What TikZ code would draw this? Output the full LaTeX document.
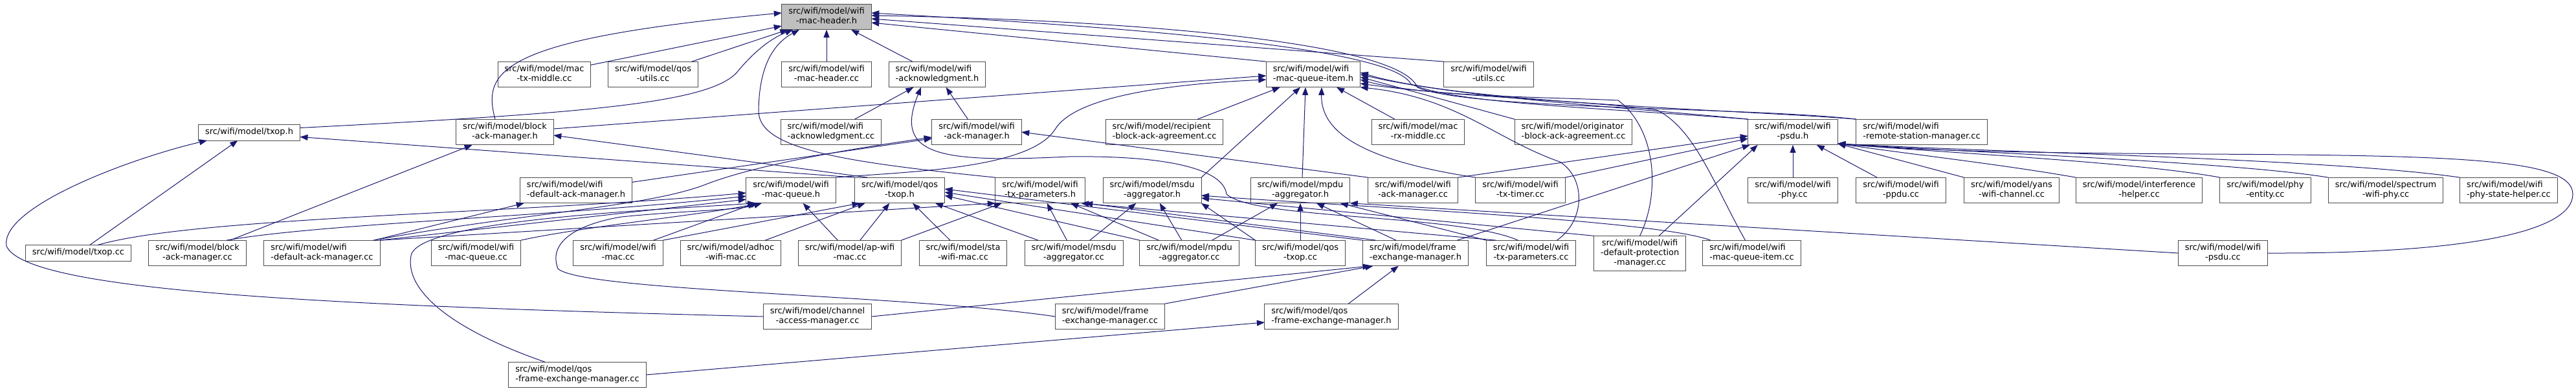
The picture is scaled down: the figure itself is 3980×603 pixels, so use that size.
\documentclass[tikz,border=0pt]{standalone}
\usepackage{fontspec}
\setmainfont{DejaVu Sans}
\usetikzlibrary{arrows.meta}
\definecolor{edgeblue}{HTML}{191970}
\definecolor{rootfill}{HTML}{BFBFBF}
\newcommand{\incfile}[2]{\strut#1\\\strut#2}
\tikzset{
  file/.style={draw=black!70, line width=1pt, fill=white, inner xsep=10.5pt, inner ysep=5.15pt, outer sep=0pt, align=center, font=\fontsize{13}{14.7}\selectfont},
  fileleft/.style={file, align=left},
  rootfile/.style={file, fill=rootfill},
  inc/.style={draw=edgeblue, line width=1pt, -{Triangle[length=12pt,width=9pt]}}
}
\begin{document}
\begin{tikzpicture}[x=1pt,y=-1pt]
\useasboundingbox (0,0) rectangle (3980,603);
\node[rootfile] (mh) at (1277,26) {\incfile{src/wifi/model/wifi}{-mac-header.h}};
% rank 2
\node[file] (mtx) at (841,115) {\incfile{src/wifi/model/mac}{-tx-middle.cc}};
\node[file] (qu) at (1009,115) {\incfile{src/wifi/model/qos}{-utils.cc}};
\node[file] (mhc) at (1277,115) {\incfile{src/wifi/model/wifi}{-mac-header.cc}};
\node[fileleft] (ackh) at (1448,115) {\incfile{src/wifi/model/wifi}{-acknowledgment.h}};
\node[fileleft] (mqi) at (2029,115) {\incfile{src/wifi/model/wifi}{-mac-queue-item.h}};
\node[file] (wu) at (2300,115) {\incfile{src/wifi/model/wifi}{-utils.cc}};
% rank 3
\node[file] (txoph) at (385,204.5) {\strut src/wifi/model/txop.h};
\node[file] (bamh) at (780,204) {\incfile{src/wifi/model/block}{-ack-manager.h}};
\node[fileleft] (ackc) at (1284,204) {\incfile{src/wifi/model/wifi}{-acknowledgment.cc}};
\node[file] (amh) at (1509,204) {\incfile{src/wifi/model/wifi}{-ack-manager.h}};
\node[fileleft] (rbaa) at (1799,204) {\incfile{src/wifi/model/recipient}{-block-ack-agreement.cc}};
\node[file] (mrx) at (2191,204) {\incfile{src/wifi/model/mac}{-rx-middle.cc}};
\node[fileleft] (obaa) at (2431,204) {\incfile{src/wifi/model/originator}{-block-ack-agreement.cc}};
\node[file] (psduh) at (2770,204) {\incfile{src/wifi/model/wifi}{-psdu.h}};
\node[fileleft] (rsm) at (2969,204) {\incfile{src/wifi/model/wifi}{-remote-station-manager.cc}};
% rank 4
\node[fileleft] (damh) at (890,294) {\incfile{src/wifi/model/wifi}{-default-ack-manager.h}};
\node[file] (mqh) at (1222,294) {\incfile{src/wifi/model/wifi}{-mac-queue.h}};
\node[file] (qtxoph) at (1390,294) {\incfile{src/wifi/model/qos}{-txop.h}};
\node[file] (tph) at (1607,294) {\incfile{src/wifi/model/wifi}{-tx-parameters.h}};
\node[file] (msduh) at (1780,294) {\incfile{src/wifi/model/msdu}{-aggregator.h}};
\node[file] (mpduh) at (2009,294) {\incfile{src/wifi/model/mpdu}{-aggregator.h}};
\node[file] (amc) at (2183,294) {\incfile{src/wifi/model/wifi}{-ack-manager.cc}};
\node[file] (ttc) at (2349,294) {\incfile{src/wifi/model/wifi}{-tx-timer.cc}};
\node[file] (phyc) at (2770,294) {\incfile{src/wifi/model/wifi}{-phy.cc}};
\node[file] (ppduc) at (2937,294) {\incfile{src/wifi/model/wifi}{-ppdu.cc}};
\node[file] (yans) at (3108,294) {\incfile{src/wifi/model/yans}{-wifi-channel.cc}};
\node[file] (ihc) at (3305,294) {\incfile{src/wifi/model/interference}{-helper.cc}};
\node[file] (pec) at (3500,294) {\incfile{src/wifi/model/phy}{-entity.cc}};
\node[file] (swp) at (3686,294) {\incfile{src/wifi/model/spectrum}{-wifi-phy.cc}};
\node[fileleft] (pshc) at (3876,294) {\incfile{src/wifi/model/wifi}{-phy-state-helper.cc}};
% rank 5
\node[file] (txopc) at (121,391) {\strut src/wifi/model/txop.cc};
\node[file] (bamc) at (305,391) {\incfile{src/wifi/model/block}{-ack-manager.cc}};
\node[fileleft] (damc) at (497.5,391) {\incfile{src/wifi/model/wifi}{-default-ack-manager.cc}};
\node[file] (mqc) at (735.5,391) {\incfile{src/wifi/model/wifi}{-mac-queue.cc}};
\node[file] (macc) at (955,391) {\incfile{src/wifi/model/wifi}{-mac.cc}};
\node[file] (adhoc) at (1129,391) {\incfile{src/wifi/model/adhoc}{-wifi-mac.cc}};
\node[file] (ap) at (1313,391) {\incfile{src/wifi/model/ap-wifi}{-mac.cc}};
\node[file] (sta) at (1488,391) {\incfile{src/wifi/model/sta}{-wifi-mac.cc}};
\node[file] (msduc) at (1659,391) {\incfile{src/wifi/model/msdu}{-aggregator.cc}};
\node[file] (mpduc) at (1837.5,391) {\incfile{src/wifi/model/mpdu}{-aggregator.cc}};
\node[file] (qtxopc) at (2009,391) {\incfile{src/wifi/model/qos}{-txop.cc}};
\node[fileleft] (femh) at (2187,391) {\incfile{src/wifi/model/frame}{-exchange-manager.h}};
\node[file] (tpc) at (2365.5,391) {\incfile{src/wifi/model/wifi}{-tx-parameters.cc}};
\node[file] (dpmc) at (2533.6,391.5) {\strut src/wifi/model/wifi\\\strut -default-protection\\\strut -manager.cc};
\node[fileleft] (mqic) at (2706.5,391) {\incfile{src/wifi/model/wifi}{-mac-queue-item.cc}};
\node[file] (psduc) at (3434.5,391) {\incfile{src/wifi/model/wifi}{-psdu.cc}};
% rank 6 and 7
\node[file] (camc) at (1263,489) {\incfile{src/wifi/model/channel}{-access-manager.cc}};
\node[fileleft] (femc) at (1715,489) {\incfile{src/wifi/model/frame}{-exchange-manager.cc}};
\node[fileleft] (qfemh) at (2057,489) {\incfile{src/wifi/model/qos}{-frame-exchange-manager.h}};
\node[fileleft] (qfemc) at (892,579) {\incfile{src/wifi/model/qos}{-frame-exchange-manager.cc}};

% into wifi-mac-header.h
\draw[inc] ([xshift=-15pt]bamh.north) .. controls (745,110) and (770,60) .. ([yshift=6pt]mh.west);
\draw[inc] (mtx) -- (mh);
\draw[inc] (qu) -- (mh);
\draw[inc] ([yshift=7pt]txoph.east) .. controls (900,175) and (1100,160) .. (1140,110) .. controls (1165,80) and (1190,60) .. ([xshift=-52pt]mh.south);
\draw[inc] (tph.north west) .. controls (1300,250) and (1170,230) .. (1172,170) .. controls (1173,110) and (1190,70) .. ([xshift=-42pt]mh.south);
\draw[inc] (mhc) -- (mh);
\draw[inc] (ackh) -- (mh);
\draw[inc] (mqi.north west) -- ([yshift=-9pt]mh.east);
\draw[inc] (wu.north west) -- ([yshift=-3pt]mh.east);
\draw[inc] (psduh.north west) .. controls (2450,165) and (2250,160) .. (2180,130) .. controls (2150,70) and (1700,40) .. ([yshift=6pt]mh.east);
\draw[inc] (rsm.north west) .. controls (2700,165) and (2270,170) .. (2190,135) .. controls (2160,60) and (1700,30) .. ([yshift=2pt]mh.east);
% into wifi-acknowledgment.h
\draw[inc] (ackc) -- (ackh);
\draw[inc] (amh) -- (ackh);
\draw[inc] ([xshift=-20pt]tpc.north) .. controls (2250,330) and (1940,340) .. (1895,300) .. controls (1890,260) and (1800,240) .. (1650,242) .. controls (1450,252) and (1380,240) .. ([xshift=-25pt]ackh.south);
% into wifi-ack-manager.h
\draw[inc] (damh) -- (amh);
\draw[inc] (amc.north west) -- (amh.east);
\draw[inc] ([xshift=-10pt]damc.north east) .. controls (800,330) and (1000,320) .. (1090,285) .. controls (1180,250) and (1350,225) .. ([yshift=-8pt]amh.west);
% into txop.h
\draw[inc] (txopc) -- (txoph);
\draw[inc] (qtxoph.north west) -- ([yshift=-7pt]txoph.east);
\draw[inc] (camc.west) .. controls (500,472) and (40,450) .. (10,380) .. controls (0,320) and (200,245) .. ([xshift=-65pt]txoph.south);
% into block-ack-manager.h
\draw[inc] (bamc) -- (bamh);
\draw[inc] ([xshift=20pt]qtxoph.north west) -- ([yshift=-5pt]bamh.east);
% into wifi-mac-queue-item.h
\draw[inc] ([yshift=5pt]bamh.east) -- ([yshift=-2pt]mqi.west);
\draw[inc] (msduh.north east) -- ([xshift=-20pt]mqi.south);
\draw[inc] ([xshift=3pt]mpduh.north) -- ([xshift=-12pt]mqi.south);
\draw[inc] (mqh.north east) .. controls (1400,265) and (1590,262) .. (1630,200) .. controls (1660,150) and (1800,130) .. ([yshift=-8pt]mqi.west);
\draw[inc] (mrx) -- (mqi);
\draw[inc] (obaa.north west) -- ([yshift=-4pt]mqi.east);
\draw[inc] (rbaa) -- (mqi);
\draw[inc] (ttc.north west) .. controls (2120,250) and (2040,210) .. ([xshift=13pt]mqi.south);
\draw[inc] (dpmc.north) .. controls (2565,300) and (2560,200) .. (2500,155) .. controls (2400,150) and (2200,150) .. ([yshift=-8pt]mqi.east);
\draw[inc] ([xshift=-10pt]mqic.north) .. controls (2650,290) and (2620,200) .. (2560,170) .. controls (2450,155) and (2250,150) .. ([yshift=-14pt]mqi.east);
\draw[inc] (psduh.north west) .. controls (2500,165) and (2250,150) .. (mqi.east);
\draw[inc] (rsm.north west) .. controls (2700,170) and (2260,160) .. ([yshift=3pt]mqi.east);
\draw[inc] ([xshift=40pt]tpc.north) .. controls (2450,340) and (2450,275) .. (2410,250) .. controls (2310,215) and (2250,150) .. (mqi.south east);
% into wifi-mac-queue.h
\draw[inc] ([xshift=30pt]txopc.north) .. controls (300,335) and (800,330) .. ([yshift=-4pt]mqh.west);
\draw[inc] ([xshift=45pt]bamc.north) .. controls (500,345) and (850,335) .. ([yshift=-9pt]mqh.west);
\draw[inc] (damc.north east) -- ([yshift=-14pt]mqh.west);
\draw[inc] (mqc.north east) .. controls (900,350) and (1100,330) .. ([xshift=-50pt]mqh.south);
\draw[inc] (macc) -- (mqh);
\draw[inc] (ap) -- (mqh);
\draw[inc] (femc.west) .. controls (1400,455) and (900,450) .. (862,415) .. controls (845,370) and (900,345) .. (960,335) .. controls (1060,325) and (1140,325) .. ([xshift=-45pt]mqh.south);
\draw[inc] ([xshift=-50pt]qfemc.north) .. controls (700,510) and (625,450) .. (635,395) .. controls (645,340) and (1000,325) .. ([xshift=-55pt]mqh.south);
% into wifi-default-ack-manager.h
\draw[inc] (damc) -- (damh);
% into qos-txop.h
\draw[inc] (adhoc) -- (qtxoph);
\draw[inc] (macc.north east) -- ([xshift=8pt]qtxoph.south west);
\draw[inc] (ap) -- (qtxoph);
\draw[inc] (sta) -- (qtxoph);
\draw[inc] (msduc) -- (qtxoph);
\draw[inc] (mpduc.north west) -- ([yshift=-8pt]qtxoph.east);
\draw[inc] (qtxopc.north west) -- ([yshift=-3pt]qtxoph.east);
\draw[inc] (femh.north west) -- ([yshift=2pt]qtxoph.east);
% into wifi-tx-parameters.h
\draw[inc] (damc.north east) -- (tph.south west);
\draw[inc] (msduc) -- (tph);
\draw[inc] (mpduc) -- (tph);
\draw[inc] (ap.north east) -- ([xshift=10pt]tph.south west);
\draw[inc] ([xshift=20pt]femh.north west) -- (tph.south east);
\draw[inc] ([xshift=15pt]tpc.north west) -- ([xshift=-6pt]tph.south east);
% into msdu-aggregator.h
\draw[inc] (msduc) -- (msduh);
\draw[inc] (mpduc) -- (msduh);
\draw[inc] (qtxopc.north west) -- (msduh.south east);
\draw[inc] ([xshift=12pt]mqic.north west) .. controls (2560,340) and (2100,320) .. ([yshift=-8pt]msduh.east);
\draw[inc] (dpmc.north west) -- ([yshift=-12pt]msduh.east);
% into mpdu-aggregator.h
\draw[inc] (mpduc) -- (mpduh);
\draw[inc] (qtxopc) -- (mpduh);
\draw[inc] (tpc.north west) -- ([xshift=-15pt]mpduh.south east);
\draw[inc] (psduc.west) -- (mpduh.south east);
\draw[inc] ([xshift=-30pt]femh.north) -- ([xshift=25pt]mpduh.south);
% into wifi-psdu.h
\draw[inc] (phyc) -- (psduh);
\draw[inc] (ppduc) -- (psduh);
\draw[inc] (yans.north west) -- ([yshift=2pt]psduh.south east);
\draw[inc] (ihc.north west) .. controls (3100,255) and (2950,238) .. ([yshift=2pt]psduh.south east);
\draw[inc] (pec.north west) .. controls (3300,250) and (3000,236) .. ([yshift=2pt]psduh.south east);
\draw[inc] (swp.north west) .. controls (3450,250) and (3050,236) .. ([yshift=2pt]psduh.south east);
\draw[inc] (pshc.north west) .. controls (3600,245) and (3100,236) .. ([yshift=2pt]psduh.south east);
\draw[inc] (psduc.east) .. controls (3800,392) and (3975,360) .. (3975,300) .. controls (3975,245) and (3800,240) .. (3400,238) .. controls (3100,236) and (2950,232) .. ([yshift=2pt]psduh.south east);
\draw[inc] (amc.north east) -- ([yshift=-6pt]psduh.west);
\draw[inc] (ttc.north east) -- ([yshift=-10pt]psduh.west);
\draw[inc] ([xshift=-17pt]femh.north east) -- ([xshift=3pt]psduh.south west);
\draw[inc] (dpmc) -- ([xshift=15pt]psduh.south west);
% into frame-exchange-manager.h and qos-frame-exchange-manager.h
\draw[inc] (camc.east) -- ([xshift=12pt]femh.south west);
\draw[inc] (femc.north east) -- ([xshift=16pt]femh.south west);
\draw[inc] (qfemh) -- (femh);
\draw[inc] (qfemc.east) -- ([yshift=-9pt]qfemh.west);
\end{tikzpicture}
\end{document}
